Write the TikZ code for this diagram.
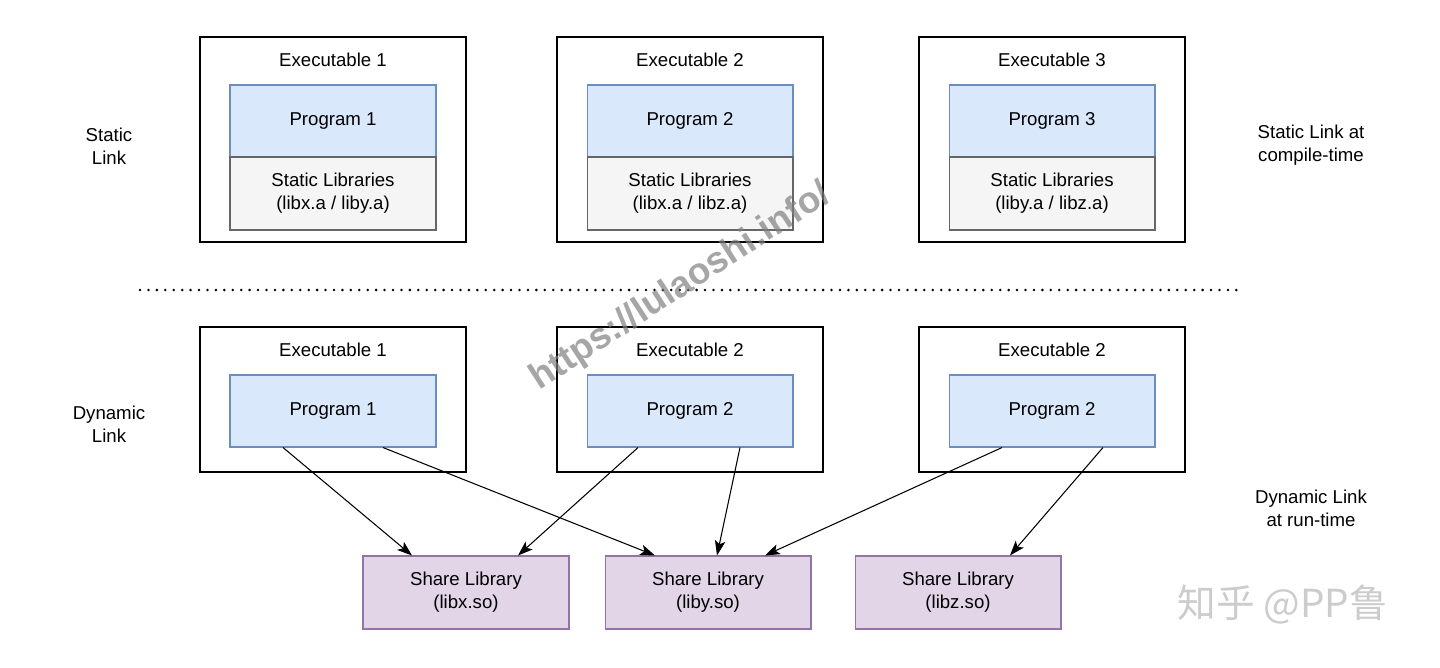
\documentclass[tikz,border=0pt]{standalone}
\usepackage{fontspec}
\setmainfont{Liberation Sans}
\newfontfamily\cjkfont{Noto Sans CJK SC}
\usetikzlibrary{arrows.meta}
\definecolor{progfill}{HTML}{DAE8FC}
\definecolor{progline}{HTML}{6C8EBF}
\definecolor{statfill}{HTML}{F5F5F5}
\definecolor{statline}{HTML}{666666}
\definecolor{sofill}{HTML}{E1D5E7}
\definecolor{soline}{HTML}{9673A6}
\begin{document}
\begin{tikzpicture}[x=0.02cm, y=-0.02cm,
        every node/.style={font=\fontsize{10.6}{13}\selectfont, align=center, inner sep=0pt},
        exebox/.style={draw=black, line width=0.7pt, minimum width=5.32cm},
        progbox/.style={draw=progline, fill=progfill, line width=0.6pt, minimum width=4.12cm, minimum height=1.44cm},
        statbox/.style={draw=statline, fill=statfill, line width=0.6pt, minimum width=4.12cm, minimum height=1.46cm},
        sobox/.style={draw=soline, fill=sofill, line width=0.6pt, minimum width=4.12cm, minimum height=1.46cm},
        link/.style={-{Stealth[length=8.5pt, width=6pt, inset=2pt]}, line width=0.6pt}]
        \useasboundingbox (0,0) rectangle (1440,667);

        % static link row
        \node[exebox, minimum height=4.1cm] (exeA) at (333,139.5) {};
        \node[exebox, minimum height=4.1cm] (exeB) at (690,139.5) {};
        \node[exebox, minimum height=4.1cm] (exeC) at (1052,139.5) {};
        \node (exeAtxt) at (333,60) {Executable 1};
        \node (exeBtxt) at (690,60) {Executable 2};
        \node (exeCtxt) at (1052,60) {Executable 3};
        \node[progbox] (prgA) at (333,121) {Program 1};
        \node[progbox] (prgB) at (690,121) {Program 2};
        \node[progbox] (prgC) at (1052,121) {Program 3};
        \node[statbox] (libA) at (333,193.5) {Static Libraries\\(libx.a / liby.a)};
        \node[statbox] (libB) at (690,193.5) {Static Libraries\\(libx.a / libz.a)};
        \node[statbox] (libC) at (1052,193.5) {Static Libraries\\(liby.a / libz.a)};
        \node (statlbl) at (109,146) {Static\\Link};
        \node (statnote) at (1311,145) {Static Link at\\compile-time};

        \coordinate (dotL) at (140,290);
        \coordinate (dotR) at (1237,290);
        \draw[line width=1.6pt, line cap=round, dash pattern=on 0pt off 4.8pt] (dotL) -- (dotR);

        % dynamic link row
        \node[exebox, minimum height=2.9cm] (dexeA) at (333,399.5) {};
        \node[exebox, minimum height=2.9cm] (dexeB) at (690,399.5) {};
        \node[exebox, minimum height=2.9cm] (dexeC) at (1052,399.5) {};
        \node (dexeAtxt) at (333,350) {Executable 1};
        \node (dexeBtxt) at (690,350) {Executable 2};
        \node (dexeCtxt) at (1052,350) {Executable 2};
        \node[progbox] (dprgA) at (333,411) {Program 1};
        \node[progbox] (dprgB) at (690,411) {Program 2};
        \node[progbox] (dprgC) at (1052,411) {Program 2};
        \node (dynlbl) at (109,424) {Dynamic\\Link};
        \node (dynnote) at (1311,508) {Dynamic Link\\at run-time};

        \node[sobox] (soX) at (466,592.5) {Share Library\\(libx.so)};
        \node[sobox] (soY) at (708,592.5) {Share Library\\(liby.so)};
        \node[sobox] (soZ) at (958,592.5) {Share Library\\(libz.so)};

        \draw[link] ([xshift=-1cm]dprgA.south) -- ([xshift=-1.08cm]soX.north);
        \draw[link] ([xshift=1cm]dprgA.south) -- ([xshift=-1.06cm]soY.north);
        \draw[link] ([xshift=-1.04cm]dprgB.south) -- ([xshift=1.04cm]soX.north);
        \draw[link] ([xshift=1cm]dprgB.south) -- ([xshift=0.18cm]soY.north);
        \draw[link] ([xshift=-1cm]dprgC.south) -- ([xshift=1.14cm]soY.north);
        \draw[link] ([xshift=1.02cm]dprgC.south) -- ([xshift=1.04cm]soZ.north);

        % watermarks
        \node[rotate=33, text=gray, opacity=0.7, font=\bfseries\fontsize{21}{21}\selectfont] (wmurl) at (681,287) {https://lulaoshi.info/};
        \node[text=gray!40, font=\fontsize{22}{22}\selectfont] (wmzh) at (1283,605) {\cjkfont 知乎 @PP鲁};
\end{tikzpicture}
\end{document}
